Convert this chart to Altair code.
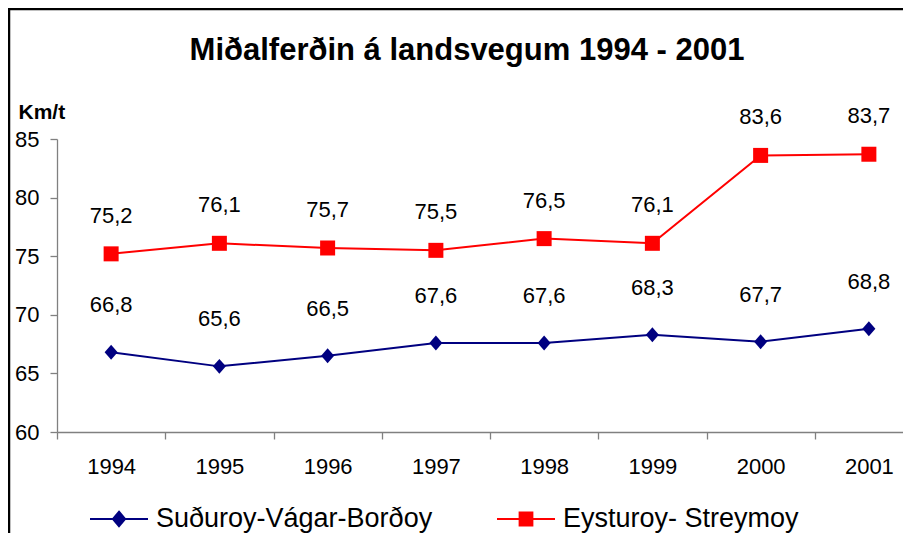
import altair as alt
import pandas as pd

years = ["1994", "1995", "1996", "1997", "1998", "1999", "2000", "2001"]
series_names = ["Suðuroy-Vágar-Borðoy", "Eysturoy- Streymoy"]
blue_values = [66.8, 65.6, 66.5, 67.6, 67.6, 68.3, 67.7, 68.8]
red_values = [75.2, 76.1, 75.7, 75.5, 76.5, 76.1, 83.6, 83.7]
colors = ["#000080", "#FF0000"]
title_text = "Miðalferðin á landsvegum 1994 - 2001"
y_title = "Km/t"

rows = []
for name, vals in zip(series_names, [blue_values, red_values]):
    for yr, v in zip(years, vals):
        rows.append({"year": yr, "series": name, "value": v,
                     "label": f"{v:.1f}".replace(".", ",")})
df = pd.DataFrame(rows)

FONT = "Liberation Sans"
W, H = 846, 293

x_enc = alt.X("year:O",
              scale=alt.Scale(type="band", domain=years, range=[0, 866],
                              paddingInner=0, paddingOuter=0),
              axis=alt.Axis(title=None, tickBand="extent", labelAngle=0,
                            labelFont=FONT, labelFontSize=22, labelColor="black",
                            labelBaseline="alphabetic", labelPadding=34,
                            tickSize=7, domainColor="#808080", tickColor="#808080",
                            domainWidth=1.3, tickWidth=1.3, grid=False))
y_enc = alt.Y("value:Q",
              scale=alt.Scale(domain=[60, 85], nice=False, zero=False),
              axis=alt.Axis(values=[60, 65, 70, 75, 80, 85], title=y_title,
                            titleAngle=0, titleAlign="left", titleBaseline="alphabetic",
                            titleX=-39, titleY=-21, titleFont=FONT, titleFontSize=21,
                            titleFontWeight="bold", titleColor="black",
                            labelFont=FONT, labelFontSize=22, labelColor="black",
                            labelPadding=11, tickSize=7, domainColor="#808080",
                            tickColor="#808080", domainWidth=1.3, tickWidth=1.3,
                            grid=False))

base = alt.Chart(df)

def only(i):
    return base.transform_filter(alt.datum.series == series_names[i])

line_blue = only(0).mark_line(strokeWidth=2, color=colors[0]).encode(x=x_enc, y=y_enc)
line_red = only(1).mark_line(strokeWidth=2, color=colors[1]).encode(x=x_enc, y=y_enc)

diamond_path = "M0,-1.07L0.93,0L0,1.07L-0.93,0Z"
pts_blue = only(0).mark_point(
    shape=diamond_path, size=196, filled=True, opacity=1, color=colors[0]
).encode(x=x_enc, y=y_enc)
pts_red = only(1).mark_point(
    shape="square", size=225, filled=True, opacity=1, color=colors[1]
).encode(x=x_enc, y=y_enc)

lab_blue = only(0).mark_text(
    dy=-40, font=FONT, fontSize=22, color="black", baseline="alphabetic"
).encode(x=x_enc, y=y_enc, text="label:N")
lab_red = only(1).mark_text(
    dy=-31, font=FONT, fontSize=22, color="black", baseline="alphabetic"
).encode(x=x_enc, y=y_enc, text="label:N")

# legend-only layer (invisible marks), symbols = line + marker
leg_paths = ["M-1,0H1M0,-0.25L0.21,0L0,0.25L-0.21,0Z",
             "M-1,0H1M-0.22,-0.22H0.22V0.22H-0.22Z"]
legend = alt.Legend(orient="none", direction="horizontal", legendX=32, legendY=350,
                    title=None, padding=0, labelFont=FONT, labelFontSize=27,
                    labelColor="black", labelLimit=500, labelOffset=7,
                    columnPadding=60, symbolSize=3364, symbolStrokeWidth=2,
                    symbolOpacity=1)
leg = base.mark_point(filled=True, opacity=0, size=3364, strokeWidth=2).encode(
    x=x_enc, y=y_enc,
    shape=alt.Shape("series:N", scale=alt.Scale(domain=series_names, range=leg_paths),
                    legend=legend),
    fill=alt.Fill("series:N", scale=alt.Scale(domain=series_names, range=colors),
                  legend=legend),
    stroke=alt.Stroke("series:N", scale=alt.Scale(domain=series_names, range=colors),
                      legend=legend),
)

frame = alt.Chart(alt.Data(values=[{"a": 1}])).mark_rect(
    fill=None, stroke="black", strokeWidth=2.5
).encode(x=alt.value(-48), x2=alt.value(1200), y=alt.value(-130), y2=alt.value(1200))

title = alt.Chart(alt.Data(values=[{"a": 1}])).mark_text(
    text=title_text, font=FONT, fontSize=31, fontWeight="bold", color="black",
    align="center", baseline="alphabetic"
).encode(x=alt.value(410), y=alt.value(-79.5))

chart = alt.layer(frame, title, line_blue, line_red, pts_blue, pts_red,
                  lab_blue, lab_red, leg).properties(
    width=W, height=H,
    autosize=alt.AutoSizeParams(type="none"),
    padding={"left": 49, "top": 131, "right": 0, "bottom": 101},
).configure(background="white").configure_view(stroke=None)

chart.save("out.html", embed_options={"renderer": "svg", "actions": False})
